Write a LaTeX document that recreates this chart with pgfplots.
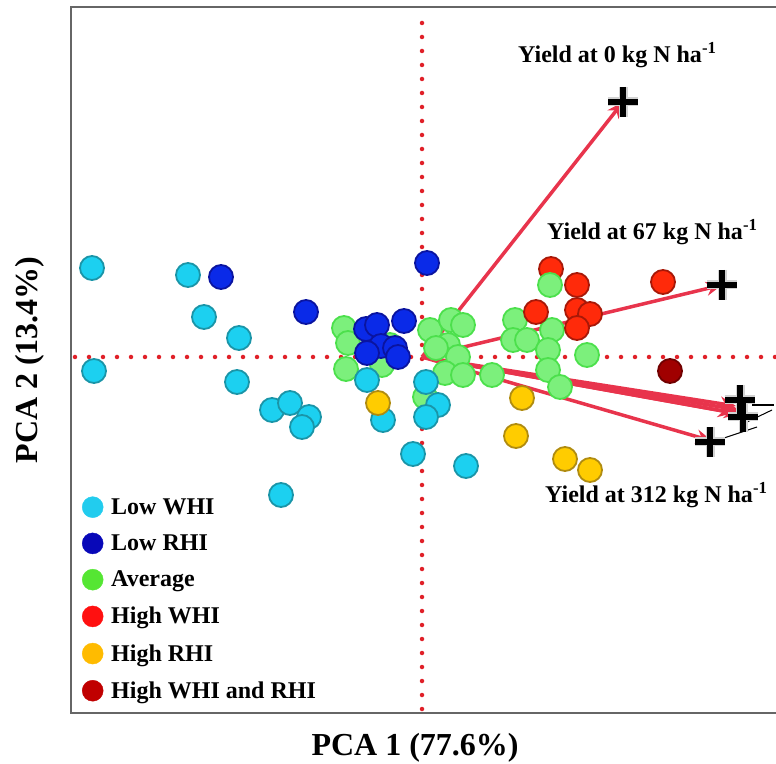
\documentclass[border=0pt]{standalone}
\usepackage{fontspec}
\setmainfont{Liberation Serif}
\usepackage{pgfplots}
\pgfplotsset{compat=1.18}
\usetikzlibrary{arrows.meta}
\definecolor{lwhi}{HTML}{1CD0F0}
\definecolor{lwhiE}{HTML}{1A95A8}
\definecolor{lrhi}{HTML}{0A2AE8}
\definecolor{lrhiE}{HTML}{0A14A0}
\definecolor{avg}{HTML}{7CF07C}
\definecolor{avgE}{HTML}{4CE04C}
\definecolor{hwhi}{HTML}{FF2A0A}
\definecolor{hwhiE}{HTML}{A81808}
\definecolor{hrhi}{HTML}{FFCC00}
\definecolor{hrhiE}{HTML}{B08C10}
\definecolor{both}{HTML}{A00000}
\definecolor{bothE}{HTML}{700000}
\definecolor{arrowred}{HTML}{E8344C}
\definecolor{dotred}{HTML}{E02028}
\definecolor{Llwhi}{HTML}{22CCEE}
\definecolor{Llrhi}{HTML}{0808B8}
\definecolor{Lavg}{HTML}{55E633}
\definecolor{Lhwhi}{HTML}{FF1010}
\definecolor{Lhrhi}{HTML}{FFBB00}
\definecolor{Lboth}{HTML}{C00000}
\definecolor{frame}{HTML}{666666}
\begin{document}
\begin{tikzpicture}
\begin{axis}[name=ax, scale only axis, width=705pt, height=706pt,
  xmin=-3.51, xmax=3.54, ymin=-3.56, ymax=3.50,
  axis line style={draw=none}, ticks=none, clip=false,
  xlabel={PCA 1 (77.6\%)}, ylabel={PCA 2 (13.4\%)},
  label style={font=\fontsize{32}{36}\selectfont\bfseries},
  xlabel style={at={(axis description cs:0.488,0)}, anchor=base, yshift=-42pt},
  ylabel style={at={(axis description cs:-0.058,0.5)}, anchor=center},
  legend style={draw=none, fill=none, font=\fontsize{24}{28}\selectfont\bfseries,
    at={(axis cs:-3.43,-3.47)}, anchor=south west, row sep=15pt,
    /tikz/every odd column/.append style={column sep=6pt}},
  legend cell align=left,
  pts/.style={only marks, mark=*, mark size=12pt, forget plot},
  cross/.style={only marks, mark=+, mark size=15pt, forget plot},
  arr/.style={arrowred, line width=3.5pt, -{Stealth[length=16pt,width=14pt]}, forget plot},
]
% frame (left, top, bottom)
\draw[frame, line width=2pt] (rel axis cs:1,1) -- (rel axis cs:0,1) -- (rel axis cs:0,0) -- (rel axis cs:1,0);
% dotted reference lines
\addplot[dotred, line width=4.5pt, line cap=round, dash pattern=on 0pt off 14pt, forget plot] coordinates {(0,-3.52) (0,3.46)};
\addplot[dotred, line width=4.5pt, line cap=round, dash pattern=on 0pt off 14pt, forget plot] coordinates {(-3.47,0) (3.54,0)};
% Average
\addplot[pts, mark options={fill=avg, draw=avgE, line width=1.8pt}] coordinates {
(-0.78,0.29) (-0.74,0.14) (-0.76,-0.12) (-0.40,-0.08) (-0.32,0.12)
(0.08,0.27) (0.29,0.37) (0.41,0.32) (0.26,0.12) (0.36,0.00) (0.14,0.09)
(0.23,-0.16) (0.41,-0.18) (0.70,-0.18) (0.93,0.37) (0.91,0.17) (1.05,0.17)
(1.30,0.27) (1.26,0.07) (1.26,-0.13) (1.38,-0.30) (1.65,0.02) (0.03,-0.40)};
% High WHI
\addplot[pts, mark options={fill=hwhi, draw=hwhiE, line width=1.8pt}] coordinates {
(1.29,0.88) (1.55,0.72) (1.14,0.45) (1.55,0.47) (1.68,0.43) (1.55,0.29) (2.41,0.75)};
\addplot[pts, mark options={fill=avg, draw=avgE, line width=1.8pt}] coordinates {(1.28,0.72)};
% Low WHI
\addplot[pts, mark options={fill=lwhi, draw=lwhiE, line width=1.8pt}] coordinates {
(-3.30,0.89) (-2.34,0.82) (-2.18,0.40) (-1.83,0.19) (-3.28,-0.14) (-1.85,-0.25)
(-1.50,-0.53) (-1.32,-0.46) (-1.13,-0.60) (-1.20,-0.70) (-0.55,-0.23) (-0.39,-0.63)
(0.16,-0.48) (0.04,-0.25) (0.04,-0.60) (-0.09,-0.97) (0.44,-1.09) (-1.41,-1.38)};
% Low RHI
\addplot[pts, mark options={fill=lrhi, draw=lrhiE, line width=1.8pt}] coordinates {
(-2.01,0.80) (-1.16,0.45) (0.05,0.94) (-0.18,0.36) (-0.56,0.28) (-0.45,0.32)
(-0.41,0.11) (-0.55,0.04) (-0.27,0.09) (-0.24,0.00)};
% High RHI
\addplot[pts, mark options={fill=hrhi, draw=hrhiE, line width=1.8pt}] coordinates {
(-0.44,-0.46) (1.00,-0.41) (0.94,-0.79) (1.43,-1.02) (1.68,-1.13)};
% High WHI and RHI
\addplot[pts, mark options={fill=both, draw=bothE, line width=1.8pt}] coordinates {(2.48,-0.14)};
% loading arrows
\addplot[arr] coordinates {(0,0) (2.01,2.55)};
\addplot[arr] coordinates {(0,0) (3.00,0.72)};
\addplot[arr] coordinates {(0,0) (3.14,-0.49)};
\addplot[arr] coordinates {(0,0) (3.17,-0.53)};
\addplot[arr] coordinates {(0,0) (3.18,-0.57)};
\addplot[arr] coordinates {(0,0) (3.12,-0.56)};
\addplot[arr] coordinates {(0,0) (2.90,-0.84)};
% thin leader lines
\addplot[black, line width=1pt, forget plot] coordinates {(2.96,-0.83) (3.35,-0.70)};
\addplot[black, line width=1pt, forget plot] coordinates {(3.25,-0.65) (3.50,-0.53)};
\addplot[black, line width=2pt, forget plot] coordinates {(3.30,-0.48) (3.52,-0.48)};
% crosses
\addplot[cross, gray!35, mark options={line width=9pt}] coordinates {(2.01,2.55) (3.00,0.72) (3.18,-0.43) (3.21,-0.60) (2.88,-0.85)};
\addplot[cross, black, mark options={line width=6pt}] coordinates {(2.01,2.55) (3.00,0.72) (3.18,-0.43) (3.21,-0.60) (2.88,-0.85)};
% labels
\node[anchor=base west, font=\fontsize{24}{27}\selectfont\bfseries, inner sep=0pt] at (axis cs:0.96,2.94) {Yield at 0 kg N ha\textsuperscript{-1}};
\node[anchor=base west, font=\fontsize{24}{27}\selectfont\bfseries, inner sep=0pt] at (axis cs:1.25,1.17) {Yield at 67 kg N ha\textsuperscript{-1}};
\node[anchor=base west, font=\fontsize{24}{27}\selectfont\bfseries, inner sep=0pt] at (axis cs:1.23,-1.46) {Yield at 312 kg N ha\textsuperscript{-1}};
% legend
\addlegendimage{only marks, mark=*, mark size=10.5pt, mark options={draw=Llwhi, fill=Llwhi}}
\addlegendentry{Low WHI}
\addlegendimage{only marks, mark=*, mark size=10.5pt, mark options={draw=Llrhi, fill=Llrhi}}
\addlegendentry{Low RHI}
\addlegendimage{only marks, mark=*, mark size=10.5pt, mark options={draw=Lavg, fill=Lavg}}
\addlegendentry{Average}
\addlegendimage{only marks, mark=*, mark size=10.5pt, mark options={draw=Lhwhi, fill=Lhwhi}}
\addlegendentry{High WHI}
\addlegendimage{only marks, mark=*, mark size=10.5pt, mark options={draw=Lhrhi, fill=Lhrhi}}
\addlegendentry{High RHI}
\addlegendimage{only marks, mark=*, mark size=10.5pt, mark options={draw=Lboth, fill=Lboth}}
\addlegendentry{High WHI and RHI}
\end{axis}
\pgfresetboundingbox
\path ([shift={(-71pt,-50pt)}]ax.south west) rectangle ([shift={(0pt,7pt)}]ax.north east);
\end{tikzpicture}
\end{document}
